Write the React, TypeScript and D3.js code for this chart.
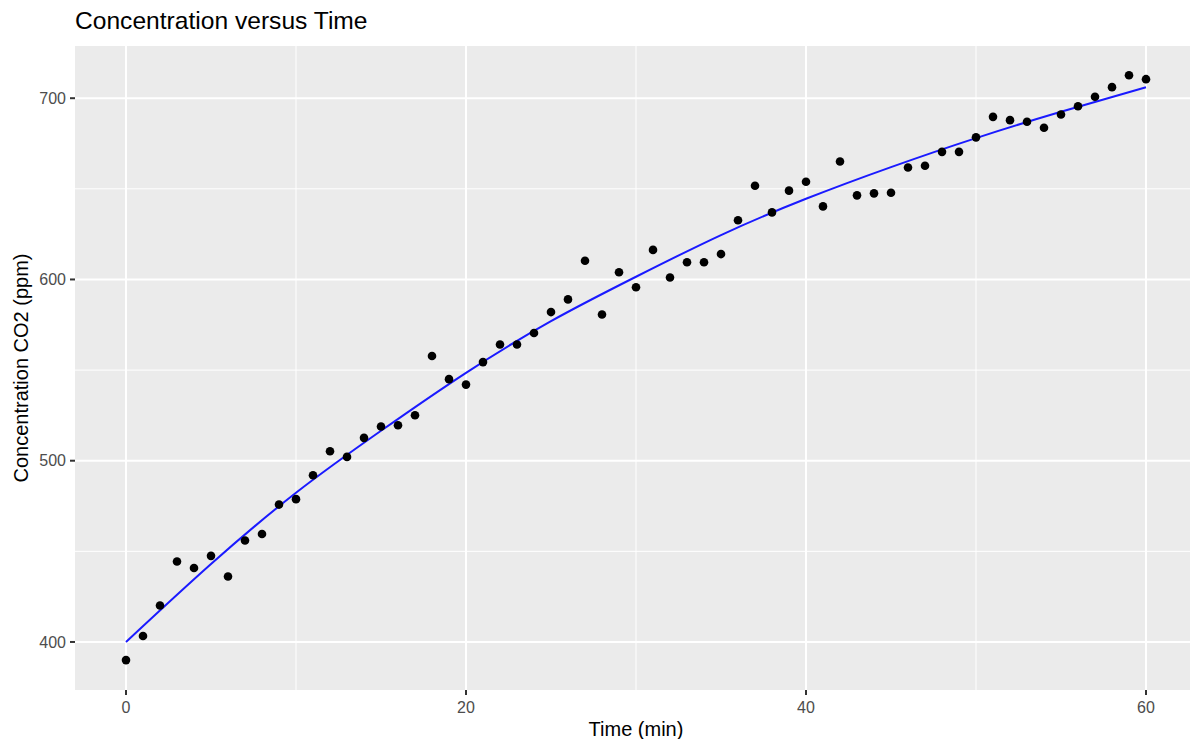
import * as d3 from 'd3'

// time (min) of each reading
const times = [
  0, 1, 2, 3, 4, 5, 6, 7, 8, 9, 10, 11, 12, 13, 14, 15, 16, 17, 18, 19, 20,
  21, 22, 23, 24, 25, 26, 27, 28, 29, 30, 31, 32, 33, 34, 35, 36, 37, 38, 39, 40,
  41, 42, 43, 44, 45, 46, 47, 48, 49, 50, 51, 52, 53, 54, 55, 56, 57, 58, 59, 60,
]
// measured CO2 (ppm)
const concentration = [
  390, 403.3, 420.1, 444.4, 440.8, 447.5, 436.1, 456, 459.6, 475.8, 478.8,
  492, 505.2, 502.1, 512.6, 518.9, 519.6, 525.1, 557.8, 545, 542,
  554.4, 564.1, 564.1, 570.5, 582, 589, 610.3, 580.7, 604, 595.7,
  616.3, 601.1, 609.5, 609.5, 614, 632.7, 651.7, 637, 649, 653.9,
  640.3, 665.1, 646.4, 647.5, 647.8, 661.8, 662.7, 670.4, 670.4, 678.4,
  689.7, 687.9, 687, 683.7, 691, 695.6, 700.8, 706.1, 712.7, 710.5,
]

// fitted curve
const fitTimes = [0, 5, 10, 15, 20, 25, 30, 35, 40, 45, 50, 55, 60]
const fitValues = [400, 443, 482.3, 516.5, 548.5, 577, 601.5, 624.5, 644.5, 662, 678, 692.5, 706]

const xTicks = [0, 20, 40, 60]
const xMinor = [10, 30, 50]
const yTicks = [400, 500, 600, 700]
const yMinor = [450, 550, 650]

const W = 1190
const H = 739
const panel = { left: 75, right: 1197, top: 46, bottom: 690 }
const font = '"Liberation Sans", Arial, Helvetica, sans-serif'

export default function App() {
  const x = d3.scaleLinear().domain([-3, 63]).range([panel.left, panel.right])
  const y = d3.scaleLinear().domain([373.5, 728.8]).range([panel.bottom, panel.top])

  const line = d3
    .line<number>()
    .x((_, i) => x(fitTimes[i]))
    .y((d) => y(d))
    .curve(d3.curveNatural)

  return (
    <svg
      width={W}
      height={H}
      style={{ position: 'absolute', left: 0, top: 0, background: '#fff' }}
      fontFamily={font}
    >
      <rect
        x={panel.left}
        y={panel.top}
        width={panel.right - panel.left}
        height={panel.bottom - panel.top}
        fill="#EBEBEB"
      />
      {/* minor grid */}
      {xMinor.map((t) => (
        <line key={'xm' + t} x1={x(t)} x2={x(t)} y1={panel.top} y2={panel.bottom} stroke="#fff" strokeWidth={1} />
      ))}
      {yMinor.map((v) => (
        <line key={'ym' + v} x1={panel.left} x2={panel.right} y1={y(v)} y2={y(v)} stroke="#fff" strokeWidth={1} />
      ))}
      {/* major grid */}
      {xTicks.map((t) => (
        <line key={'x' + t} x1={x(t)} x2={x(t)} y1={panel.top} y2={panel.bottom} stroke="#fff" strokeWidth={2} />
      ))}
      {yTicks.map((v) => (
        <line key={'y' + v} x1={panel.left} x2={panel.right} y1={y(v)} y2={y(v)} stroke="#fff" strokeWidth={2} />
      ))}

      <path d={line(fitValues) ?? ''} fill="none" stroke="#1A1AFF" strokeWidth={2} />

      {times.map((t, i) => (
        <circle key={t} cx={x(t)} cy={y(concentration[i])} r={4.3} fill="#000" />
      ))}

      {/* axes */}
      {xTicks.map((t) => (
        <g key={'xt' + t}>
          <line x1={x(t)} x2={x(t)} y1={panel.bottom} y2={panel.bottom + 5} stroke="#333" strokeWidth={2} />
          <text x={x(t)} y={712.5} textAnchor="middle" fontSize={16} fill="#4D4D4D">
            {t}
          </text>
        </g>
      ))}
      {yTicks.map((v) => (
        <g key={'yt' + v}>
          <line x1={panel.left - 5} x2={panel.left} y1={y(v)} y2={y(v)} stroke="#333" strokeWidth={2} />
          <text x={panel.left - 9} y={y(v)} dy="0.36em" textAnchor="end" fontSize={16} fill="#4D4D4D">
            {v}
          </text>
        </g>
      ))}

      <text x={(panel.left + panel.right) / 2} y={736} textAnchor="middle" fontSize={20} fill="#000">
        Time (min)
      </text>
      <text
        transform={`translate(28, ${(panel.top + panel.bottom) / 2}) rotate(-90)`}
        textAnchor="middle"
        fontSize={20}
        fill="#000"
      >
        Concentration CO2 (ppm)
      </text>
      <text x={75} y={29} fontSize={24.6} fill="#000">
        Concentration versus Time
      </text>
    </svg>
  )
}
